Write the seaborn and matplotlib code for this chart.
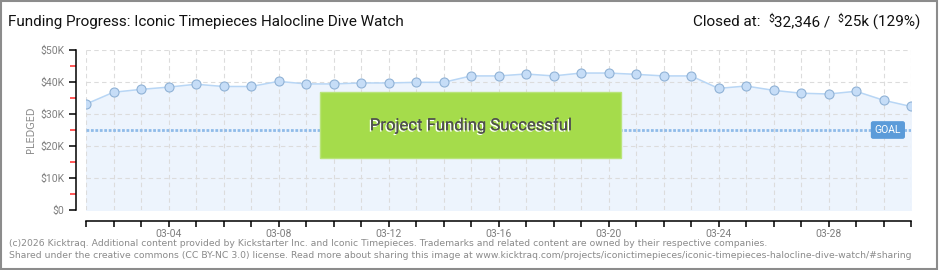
import matplotlib
matplotlib.use("Agg")
import matplotlib.pyplot as plt
import matplotlib.dates as mdates
import matplotlib.ticker as mticker
import matplotlib.patheffects as pe
from matplotlib.patches import Rectangle
import seaborn as sns
import pandas as pd

# ---- data ----
dates = ["03-01", "03-02", "03-03", "03-04", "03-05", "03-06", "03-07", "03-08",
         "03-09", "03-10", "03-11", "03-12", "03-13", "03-14", "03-15", "03-16",
         "03-17", "03-18", "03-19", "03-20", "03-21", "03-22", "03-23", "03-24",
         "03-25", "03-26", "03-27", "03-28", "03-29", "03-30", "03-31"]
pledged = [33100, 36800, 37700, 38400, 39300, 38600, 38600, 40200,
           39400, 39400, 39700, 39700, 39900, 39900, 41900, 41900,
           42500, 41900, 42800, 42800, 42400, 41900, 41900, 38000,
           38750, 37400, 36500, 36250, 37100, 34300, 32346]
goal = 25000
y_ticks = [0, 10000, 20000, 30000, 40000, 50000]
y_tick_labels = ["$0", "$10K", "$20K", "$30K", "$40K", "$50K"]
title = "Funding Progress: Iconic Timepieces Halocline Dive Watch"
closed_label = "Closed at:"
closed_amount = "32,346 /"
goal_amount = "25k (129%)"
banner_text = "Project Funding Successful"
footer1 = ("(c)2026 Kicktraq. Additional content provided by Kickstarter Inc. and Iconic Timepieces. "
           "Trademarks and related content are owned by their respective companies.")
footer2 = ("Shared under the creative commons (CC BY-NC 3.0) license. Read more about sharing this image at "
           "www.kicktraq.com/projects/iconictimepieces/iconic-timepieces-halocline-dive-watch/#sharing")

df = pd.DataFrame({"date": pd.to_datetime(["2026-" + d for d in dates]), "pledged": pledged})

sns.set_theme(style="ticks")
narrow = ["Liberation Sans Narrow", "DejaVu Sans Condensed", "Roboto", "DejaVu Sans"]
plt.rcParams["font.family"] = ["DejaVu Sans"]

fig = plt.figure(figsize=(9.4, 2.7), dpi=100)
fig.patch.set_facecolor("white")
ax = fig.add_axes([86 / 940, 60 / 270, 825 / 940, 160 / 270])
ax.set_facecolor("white")

# fill area
ax.fill_between(df["date"], df["pledged"], 0, color="#edf4fd", zorder=1)

# grid
grid_kw = dict(color="#dcdcdc", linewidth=0.8, linestyle=(0, (4, 3)), zorder=2)
for yv in y_ticks[1:]:
    ax.axhline(yv, **grid_kw)
for d in df["date"]:
    ax.axvline(d, **grid_kw)

# goal line
ax.axhline(goal, color="#8fbbe9", linewidth=2.0, linestyle=(0, (1, 0.6)), zorder=3)

# line + markers
sns.lineplot(data=df, x="date", y="pledged", ax=ax, color="#b8d6f5", linewidth=1.1,
             marker="o", markersize=6.5, markerfacecolor="#c6ddf7",
             markeredgecolor="#90b2d6", markeredgewidth=0.8, zorder=5)

ax.set_xlim(df["date"].iloc[0], df["date"].iloc[-1])
ax.set_ylim(0, 50000)
ax.set_xlabel("")
ax.set_ylabel("")

sns.despine(ax=ax, top=True, right=True, offset={"left": 7.5, "bottom": 8})
for s in ["left", "bottom"]:
    ax.spines[s].set_color("black")
    ax.spines[s].set_linewidth(1.1)

# ticks
ax.yaxis.set_major_locator(mticker.FixedLocator(y_ticks))
ax.yaxis.set_major_formatter(mticker.FixedFormatter([s.replace("$", r"\$") for s in y_tick_labels]))
ax.yaxis.set_minor_locator(mticker.MultipleLocator(5000))
ax.xaxis.set_major_locator(mdates.DayLocator(bymonthday=[4, 8, 12, 16, 20, 24, 28]))
ax.xaxis.set_major_formatter(mdates.DateFormatter("%m-%d"))
ax.xaxis.set_minor_locator(mdates.DayLocator())

ax.tick_params(axis="y", which="major", left=True, right=False, length=5, width=1.1,
               color="black", labelsize=7.5, labelcolor="#7f7f7f", pad=3, direction="out")
ax.tick_params(axis="y", which="minor", left=True, right=False, length=4, width=1.1,
               color="#ff2a2a", direction="out")
ax.tick_params(axis="x", which="both", bottom=True, top=False, length=4, width=1.1,
               color="black", direction="out", labelsize=7.5, labelcolor="#7f7f7f", pad=2)

for lbl in ax.get_yticklabels() + ax.get_xticklabels():
    lbl.set_family(narrow)

# y label
fig.text(31 / 940, 1 - 130 / 270, "PLEDGED", rotation=90, ha="center", va="center",
         fontsize=7, color="#8a8a8a")

# goal label
ax.text(0.972, goal, "GOAL", transform=ax.get_yaxis_transform(), ha="center", va="center",
        fontsize=7.5, color="white", zorder=7, family=narrow,
        bbox=dict(boxstyle="round,pad=0.3,rounding_size=0.15", facecolor="#5b9bd9",
                  edgecolor="#5b9bd9"))

# success banner
ax.add_patch(Rectangle((0.2836, 0.325), 0.3648, 0.4125, transform=ax.transAxes,
                       facecolor="#a5dc4b", edgecolor="#b9e47a", linewidth=1, zorder=6))
ax.text(0.466, 0.53, banner_text, transform=ax.transAxes, ha="center", va="center",
        fontsize=12, color="#505050", family=narrow, zorder=7,
        path_effects=[pe.withSimplePatchShadow(offset=(-1, -1), shadow_rgbFace="white", alpha=1.0),
                      pe.Normal()])

# titles
fig.text(8 / 940, 1 - 22 / 270, title, ha="left", va="center", fontsize=11,
         color="#111111", family=narrow)

# closed-at text assembled right to left with small dollar signs
fig.canvas.draw()
renderer = fig.canvas.get_renderer()
ty = 1 - 22 / 270
x_right = 920 / 940
pieces = [(goal_amount, 11, 0.0), (r"\$", 7.5, 0.012), (closed_amount + "  ", 11, 0.0),
          (r"\$", 7.5, 0.012), (closed_label + "  ", 11, 0.0)]
for txt, fs, dy in pieces:
    t = fig.text(x_right, ty + dy, txt, ha="right", va="center", fontsize=fs,
                 color="#111111", family=narrow)
    bb = t.get_window_extent(renderer=renderer)
    x_right -= bb.width / fig.bbox.width

# footer
fig.text(9 / 940, 1 - 243 / 270, footer1, ha="left", va="center", fontsize=6.65, color="#8a8a8a")
fig.text(9 / 940, 1 - 255 / 270, footer2, ha="left", va="center", fontsize=6.65, color="#8a8a8a")

# frame
fig.patches.append(Rectangle((0.001, 0.002), 0.996, 0.995, transform=fig.transFigure,
                             fill=False, edgecolor="#8c8c8c", linewidth=1.5))

fig.savefig("out.png", dpi=100)
